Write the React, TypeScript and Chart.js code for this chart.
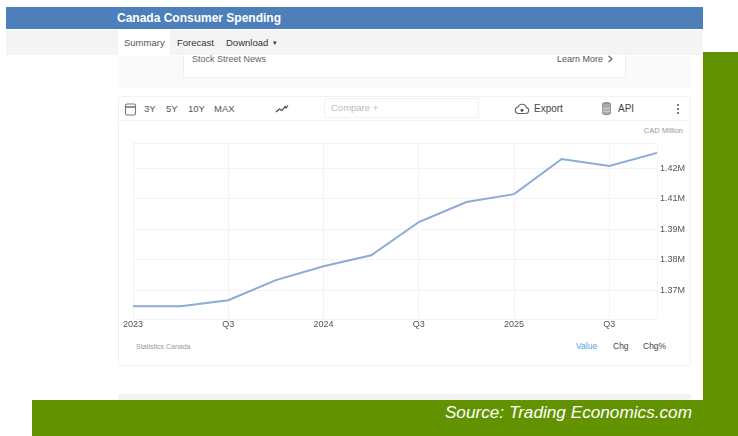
import React, { useEffect, useRef } from "react";
import { Chart, registerables } from "chart.js";

Chart.register(...registerables);

// Quarterly household consumption, CAD million
const quarters = ["2023", "Q2", "Q3", "Q4", "2024", "Q2", "Q3", "Q4", "2025", "Q2", "Q3", "Q4"];
const spending = [1360900, 1360900, 1363400, 1371600, 1377300, 1381800, 1395400, 1403600, 1406800, 1421200, 1418300, 1423700];
const yTicks = [1367500, 1380000, 1392500, 1405000, 1417500];
const yMin = 1355610;
const yMax = 1427750;

const FONT = "'Liberation Sans', Arial, sans-serif";

type TextProps = {
  x: number;
  y: number;
  size?: number;
  color?: string;
  weight?: number;
  italic?: boolean;
  right?: boolean;
  children: React.ReactNode;
};

// Text placed by its left edge (or right edge) and vertical centre
function Label({ x, y, size = 9.5, color = "#555", weight = 400, italic = false, right = false, children }: TextProps) {
  return (
    <div
      style={{
        position: "absolute",
        left: right ? undefined : x,
        right: right ? 738 - x : undefined,
        top: y,
        transform: "translateY(-50%)",
        fontFamily: FONT,
        fontSize: size,
        color,
        fontWeight: weight,
        fontStyle: italic ? "italic" : "normal",
        whiteSpace: "nowrap",
        lineHeight: 1,
      }}
    >
      {children}
    </div>
  );
}

function Box({ x, y, w, h, style }: { x: number; y: number; w: number; h: number; style: React.CSSProperties }) {
  return <div style={{ position: "absolute", left: x, top: y, width: w, height: h, boxSizing: "border-box", ...style }} />;
}

function Icon({ x, y, w, h, children }: { x: number; y: number; w: number; h: number; children: React.ReactNode }) {
  return (
    <svg style={{ position: "absolute", left: x, top: y }} width={w} height={h} viewBox={`0 0 ${w} ${h}`} fill="none">
      {children}
    </svg>
  );
}

export default function App() {
  const canvasRef = useRef<HTMLCanvasElement | null>(null);

  useEffect(() => {
    if (!canvasRef.current) return;
    const chart = new Chart(canvasRef.current, {
      type: "line",
      data: {
        labels: quarters,
        datasets: [
          {
            data: spending,
            borderColor: "#8aabd8",
            borderWidth: 2,
            pointRadius: 0,
            tension: 0,
            fill: false,
          },
        ],
      },
      options: {
        animation: false,
        responsive: false,
        maintainAspectRatio: false,
        layout: { padding: { left: 15, top: 47, right: 0, bottom: 0 } },
        plugins: { legend: { display: false }, tooltip: { enabled: false } },
        scales: {
          x: {
            offset: false,
            border: { display: false },
            grid: {
              drawTicks: false,
              color: (ctx: any) =>
                ctx.index % 2 === 0 || ctx.index === quarters.length - 1 ? "#f3f3f3" : "rgba(0,0,0,0)",
            },
            ticks: {
              autoSkip: false,
              maxRotation: 0,
              padding: 0,
              color: "#555",
              font: { family: FONT, size: 9 },
              callback: (_v: any, i: number) => (i % 2 === 0 ? quarters[i] : ""),
            },
          },
          y: {
            position: "right",
            min: yMin,
            max: yMax,
            border: { display: false },
            afterBuildTicks: (axis: any) => {
              axis.ticks = [yMin, ...yTicks, yMax].map((value) => ({ value }));
            },
            afterFit: (axis: any) => {
              axis.width = 34;
            },
            grid: { drawTicks: false, color: "#f3f3f3" },
            ticks: {
              padding: 3,
              color: "#555",
              font: { family: FONT, size: 9 },
              callback: (v: any) => (yTicks.includes(Number(v)) ? `${(Number(v) / 1e6).toFixed(2)}M` : ""),
            },
          },
        },
      },
    } as any);
    return () => chart.destroy();
  }, []);

  return (
    <div style={{ position: "absolute", left: 0, top: 0, width: 738, height: 436, overflow: "hidden", background: "#fff" }}>
      {/* Green backdrop */}
      <Box x={703} y={52} w={35} h={384} style={{ background: "#639200" }} />
      <Box x={32} y={400} w={706} h={36} style={{ background: "#639200" }} />

      {/* Site header */}
      <Box x={6} y={7} w={697} h={22} style={{ background: "#4d7fbb" }} />
      <Box x={6} y={30} w={697} h={25} style={{ background: "#f4f4f4" }} />
      <Box x={118} y={30} w={52} h={26} style={{ background: "#fff" }} />
      <Label x={117} y={18} size={12} weight={700} color="#fff">Canada Consumer Spending</Label>
      <Label x={124} y={43} color="#555">Summary</Label>
      <Label x={177} y={43} color="#333">Forecast</Label>
      <Label x={226} y={43} color="#333">Download</Label>
      <Label x={273} y={42} size={7} color="#333">▾</Label>

      {/* News strip */}
      <Box x={118} y={56} w={573} h={32} style={{ background: "#fafafa" }} />
      <Box x={183} y={55} w={443} h={23} style={{ background: "#fff", border: "1px solid #eee", borderTop: "none" }} />
      <Label x={192} y={59} size={9} color="#666">Stock Street News</Label>
      <Label x={557} y={59} size={9} color="#555">Learn More</Label>
      <Icon x={607} y={55} w={7} h={8}>
        <path d="M1.5 0.8 L5 4 L1.5 7.2" stroke="#555" strokeWidth={1.1} />
      </Icon>

      {/* Chart card */}
      <Box x={118} y={96} w={573} h={270} style={{ border: "1px solid #f1f1f1", borderRadius: 2 }} />
      <Box x={118} y={120} w={573} h={1} style={{ background: "#f3f3f3" }} />
      <Icon x={124} y={102} w={13} h={14}>
        <rect x={1.5} y={2} width={10} height={11} rx={1.5} stroke="#777" strokeWidth={1.1} />
        <path d="M1.5 5 H11.5" stroke="#777" strokeWidth={1.6} />
      </Icon>
      <Label x={144} y={109} color="#555">3Y</Label>
      <Label x={166} y={109} color="#555">5Y</Label>
      <Label x={188} y={109} color="#555">10Y</Label>
      <Label x={214} y={109} color="#555">MAX</Label>
      <Icon x={275} y={104} w={14} h={10}>
        <path d="M1 8 L4.5 5 L7 6.5 L10 2.5 L11 4 L13 1.5" stroke="#444" strokeWidth={1.2} />
      </Icon>
      <Box x={324} y={98} w={155} h={20} style={{ border: "1px solid #f2f2f2" }} />
      <Label x={331} y={108} size={9.5} color="#bbb">Compare +</Label>
      <Icon x={514} y={102} w={16} h={14}>
        <path d="M4 11.5 H12 A3 3 0 0 0 12.5 5.6 A4.5 4.5 0 0 0 4 5 A3.3 3.3 0 0 0 4 11.5 Z" stroke="#666" strokeWidth={1.1} />
        <circle cx={8} cy={8.2} r={1.5} fill="#555" />
      </Icon>
      <Label x={534} y={109} size={10} color="#444">Export</Label>
      <Icon x={601} y={101} w={11} h={15}>
        <ellipse cx={5.5} cy={2.8} rx={4} ry={1.8} fill="#888" />
        <path d="M1.5 2.8 V12 C1.5 14.2 9.5 14.2 9.5 12 V2.8" fill="#aaa" stroke="#777" strokeWidth={0.8} />
        <path d="M1.5 6.3 C1.5 8.3 9.5 8.3 9.5 6.3 M1.5 9.3 C1.5 11.3 9.5 11.3 9.5 9.3" stroke="#eee" strokeWidth={0.7} />
      </Icon>
      <Label x={618} y={109} size={10} color="#444">API</Label>
      <Icon x={676} y={103} w={4} h={12}>
        <circle cx={2} cy={2} r={1} fill="#555" />
        <circle cx={2} cy={6} r={1} fill="#555" />
        <circle cx={2} cy={10} r={1} fill="#555" />
      </Icon>
      <Label x={683} y={131} right size={7.5} color="#999">CAD Million</Label>

      {/* Canvas spans from the card's left edge to the y-axis labels */}
      <canvas ref={canvasRef} width={573} height={234} style={{ position: "absolute", left: 118, top: 96 }} />

      {/* Chart footer */}
      <Label x={136} y={346} size={7} color="#999">Statistics Canada</Label>
      <Label x={576} y={346} size={8.5} color="#4da3f0">Value</Label>
      <Label x={613} y={346} size={8.5} color="#444">Chg</Label>
      <Label x={643} y={346} size={8.5} color="#444">Chg%</Label>
      <Box x={118} y={394} w={573} h={6} style={{ background: "#f3f3f3" }} />

      <Label x={692} y={413} right size={17.2} italic color="#fff">Source: Trading Economics.com</Label>
    </div>
  );
}
